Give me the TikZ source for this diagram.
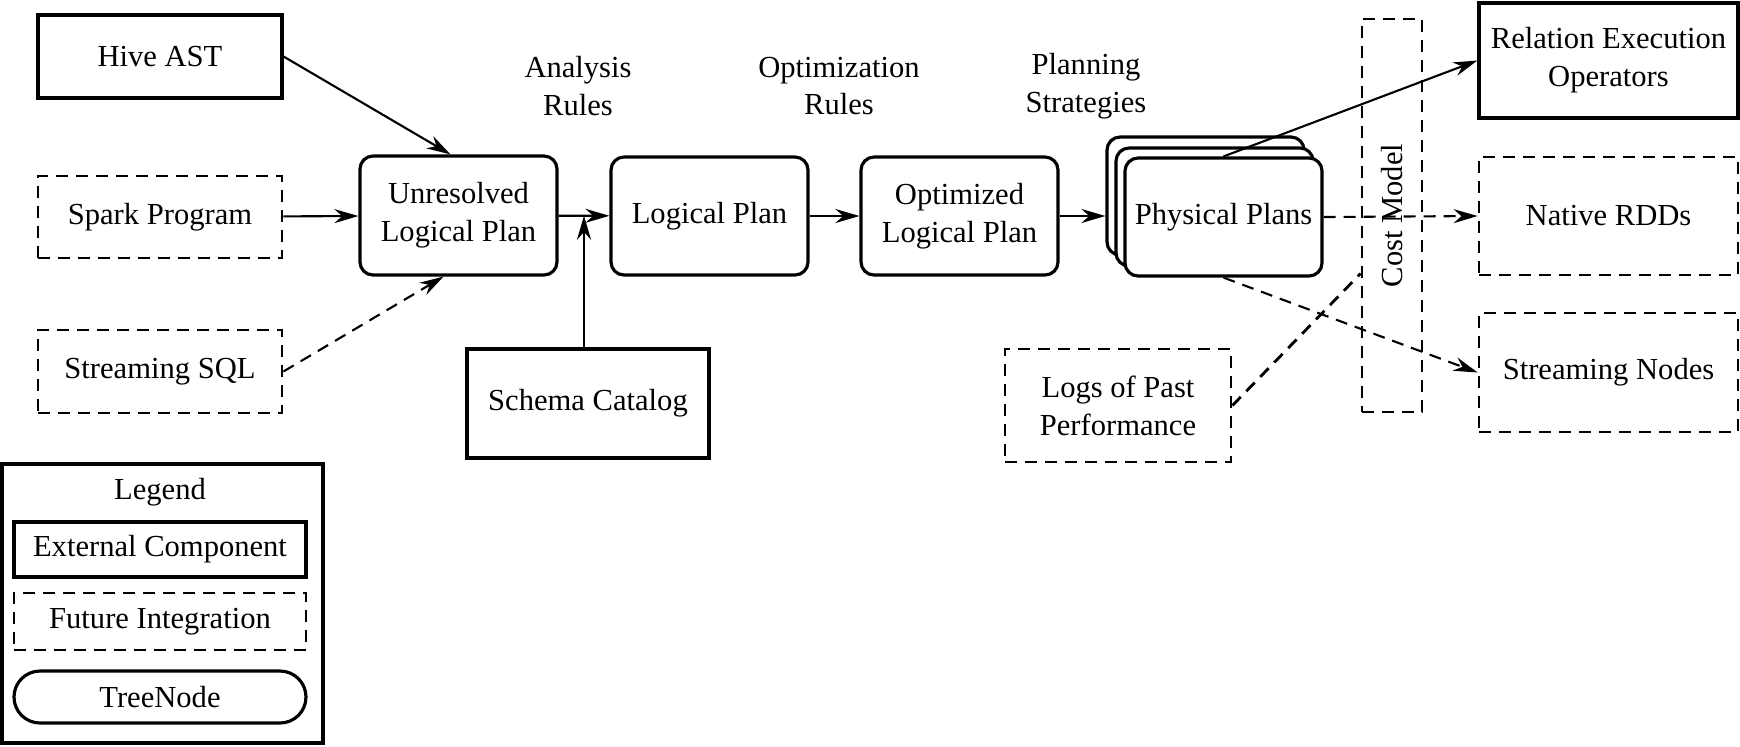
\documentclass[tikz,border=0pt]{standalone}
\usepackage{fontspec}
\setmainfont{Liberation Serif}
\usetikzlibrary{arrows.meta, positioning, calc}

\begin{document}
\begin{tikzpicture}[
    x=0.1mm, y=-0.1mm,
    every node/.style={font=\fontsize{8.7}{10.8}\selectfont, align=center, inner sep=0pt},
    ext/.style={draw, line width=0.9pt},
    fut/.style={draw, line width=0.8pt, dash pattern=on 1.2mm off 0.8mm},
    tnode/.style={draw, line width=0.9pt, rounded corners=1.3mm, fill=white,
                minimum width=19.7mm, minimum height=11.8mm},
    arr/.style={-{Stealth[length=2.4mm, width=1.4mm]}, line width=0.6pt},
    darr/.style={arr, dash pattern=on 1.2mm off 0.8mm}
]
\useasboundingbox (0,0) rectangle (1740,746);
% Inputs
\node[ext, minimum width=24.4mm, minimum height=8.3mm] (hive)  at (160,56.5)  {Hive AST};
\node[fut, minimum width=24.4mm, minimum height=8.2mm] (spark) at (160,217)   {Spark Program};
\node[fut, minimum width=24.4mm, minimum height=8.3mm] (ssql)  at (160,371.5) {Streaming SQL};
% Tree nodes
\node[tnode, minimum height=11.9mm] (unres) at (458.5,215.5) {Unresolved\\Logical Plan};
\node[tnode] (lplan) at (709.5,216) {Logical Plan};
\node[tnode] (oplan) at (959.5,216) {Optimized\\Logical Plan};
\node[tnode] (phys3) at (1205.5,196) {};
\node[tnode] (phys2) at (1214.5,207) {};
\node[tnode] (phys)  at (1223.5,217) {Physical Plans};
% Rule labels
\node (analysis) at (578,86)  {Analysis\\Rules};
\node (optim)    at (839,86)  {Optimization\\Rules};
\node (planning) at (1086,86) {Planning\\Strategies};
% Catalog and cost
\node[ext, minimum width=24.2mm, minimum height=10.9mm] (schema) at (588,403.5) {Schema Catalog};
\node[fut, minimum width=22.6mm, minimum height=11.3mm] (logs) at (1118,405.5) {Logs of Past\\Performance};
\node[fut, minimum width=6mm, minimum height=39.3mm] (cost) at (1392,215.5) {\rotatebox{90}{Cost Model}};
% Outputs
\node[ext, minimum width=25.9mm, minimum height=11.5mm] (rel)    at (1608.5,60.5)  {Relation Execution\\Operators};
\node[fut, minimum width=25.9mm, minimum height=11.8mm] (rdd)    at (1608.5,216)   {Native RDDs};
\node[fut, minimum width=25.9mm, minimum height=11.9mm] (snodes) at (1608.5,372.5) {Streaming Nodes};
% Legend
\node[ext, minimum width=32.1mm, minimum height=27.9mm] (legend) at (162.5,603.5) {};
\node (legtitle) at (160,492) {Legend};
\node[ext, minimum width=29.2mm, minimum height=5.5mm] (legext) at (160,549.5) {External Component};
\node[fut, minimum width=29.2mm, minimum height=5.7mm] (legfut) at (160,621.5) {Future Integration};
\node[tnode, minimum width=29.2mm, minimum height=5.2mm, rounded corners=2.6mm] (legtree) at (160,697) {TreeNode};
% Edges
\draw[arr]  (hive.east) -- ([xshift=-0.8mm]unres.north);
\draw[arr]  (spark) -- (unres);
\draw[darr] (ssql.east) -- ([xshift=-1.5mm]unres.south);
\draw[arr]  (unres) -- (lplan);
\coordinate (mid) at ($(unres.east)!0.5!(lplan.west)$);
\draw[arr]  (schema.north -| mid) -- (mid);
\draw[arr]  (lplan) -- (oplan);
\draw[arr]  (oplan.east) -- (oplan.east -| phys3.west);
\draw[arr]  (phys.north) -- (rel.west);
\draw[darr] (phys.east) -- (rdd.west);
\draw[darr] (phys.south) -- (snodes.west);
\draw[fut]  (logs.east) -- ([yshift=-5.8mm]cost.west);
\end{tikzpicture}
\end{document}
